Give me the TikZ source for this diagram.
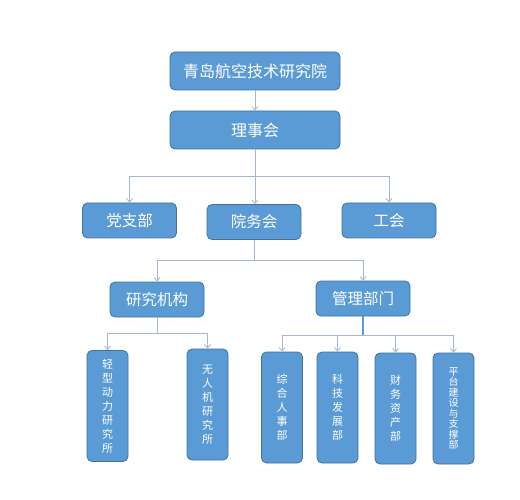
\documentclass[tikz,border=0pt]{standalone}
\usepackage{fontspec}
\newfontfamily\cjk{Noto Sans CJK SC}
\usetikzlibrary{arrows.meta}
\definecolor{boxfill}{HTML}{5B9BD5}
\definecolor{boxdraw}{HTML}{41719C}
\definecolor{linkc}{HTML}{A3B7CF}
\begin{document}
\begin{tikzpicture}[x=1pt,y=-1pt,
  box/.style={draw=boxdraw,fill=boxfill,line width=0.8pt,rounded corners=5pt,text=white,inner sep=0pt,font=\cjk},
  wide/.style={box,minimum width=170pt,minimum height=38pt,font=\cjk\fontsize{16}{19}\selectfont},
  mid/.style={box,minimum width=94pt,minimum height=35pt,font=\cjk\fontsize{15.5}{18}\selectfont},
  tall/.style={box,minimum width=41pt,minimum height=111pt,align=center,font=\cjk\fontsize{11}{14}\selectfont},
  link/.style={draw=linkc,line width=0.8pt},
  arr/.style={link,-{Straight Barb[length=3.5pt,width=6pt]}},
  thick link/.style={draw=boxfill,line width=1.6pt}
]
\useasboundingbox (0,0) rectangle (520,500);
\fill[white] (0,0) rectangle (520,500);

\node[wide] (top) at (255,71) {青岛航空技术研究院};
\node[wide] (lsh) at (255,130) {理事会};

\node[mid] (dzb) at (129.5,220.5) {党支部};
\node[mid] (ywh) at (254,222) {院务会};
\node[mid] (gh) at (389,220.5) {工会};

\node[mid] (yjjg) at (157,299.5) {研究机构};
\node[mid] (glbm) at (363,298.5) {管理部门};

\node[tall] (qx) at (107.5,406) {轻\\型\\动\\力\\研\\究\\所};
\node[tall] (wrj) at (207.5,404.5) {无\\人\\机\\研\\究\\所};

\node[tall] (zh) at (282,407.5) {综\\合\\人\\事\\部};
\node[tall] (kj) at (337.5,407.5) {科\\技\\发\\展\\部};
\node[tall] (cw) at (395.5,408.5) {财\\务\\资\\产\\部};
\node[tall,font=\cjk\fontsize{10}{10.5}\selectfont] (pt) at (453.5,408.5) {平\\台\\建\\设\\与\\支\\撑\\部};

% connectors
\draw[arr] (top) -- (lsh);

\coordinate (b1) at (255,176);
\draw[link] (lsh.south) -- (b1);
\draw[arr] (b1) -| (dzb.north);
\draw[arr] (b1) -| (gh.north);
\draw[arr] (b1) -- (b1 |- ywh.north);

\coordinate (b2) at (254,260);
\draw[link] (ywh.south) -- (b2);
\draw[arr] (b2) -| (yjjg.north);
\draw[arr] (b2) -| (glbm.north);

\coordinate (b3) at (157,333);
\draw[link] (yjjg.south) -- (b3);
\draw[arr] (b3) -| (qx.north);
\draw[arr] (b3) -| (wrj.north);

\coordinate (b4) at (363,335);
\draw[arr] (b4) -| (zh.north);
\draw[arr] (b4) -| (kj.north);
\draw[arr] (b4) -| (cw.north);
\draw[arr] (b4) -| (pt.north);
\draw[thick link] (glbm.south) -- (b4);
\end{tikzpicture}
\end{document}
